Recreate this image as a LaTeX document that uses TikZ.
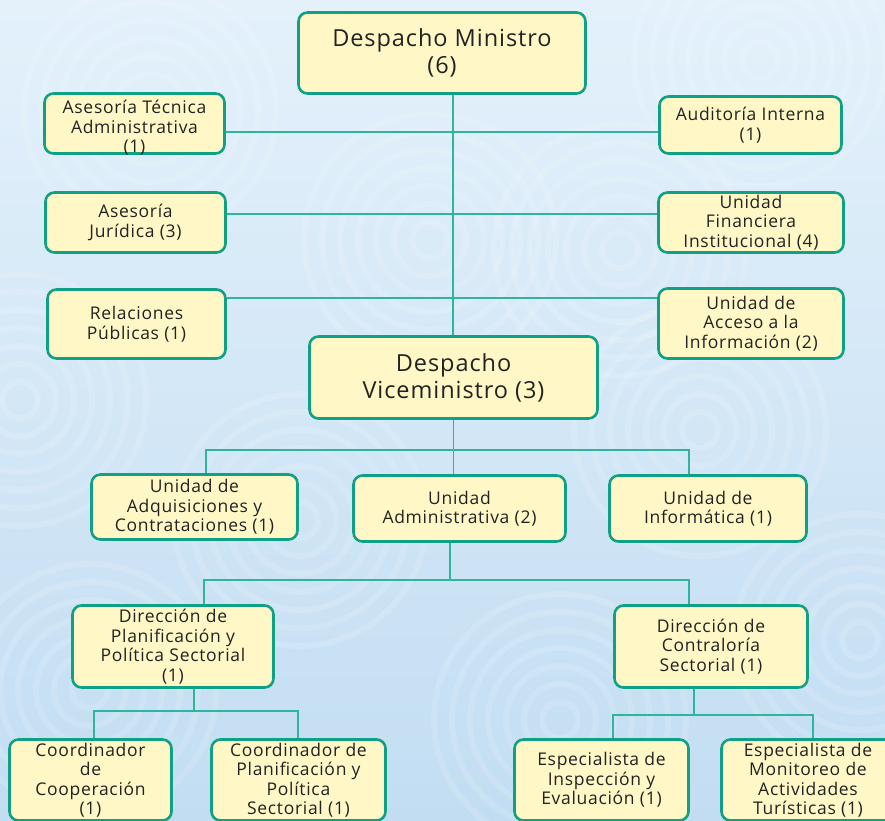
\documentclass[tikz,border=0pt]{standalone}
\usepackage{fontspec}
\setmainfont{Open Sans}[LetterSpace=4]
\pgfdeclarelayer{bg}
\pgfsetlayers{bg,main}
\definecolor{bgtop}{HTML}{E4F1FB}
\definecolor{bgbot}{HTML}{C2DDF2}
\definecolor{boxfill}{HTML}{FFF8C6}
\definecolor{boxline}{HTML}{10A084}
\definecolor{connc}{HTML}{30B49B}
\definecolor{txt}{HTML}{222222}
\tikzset{
  orgbox/.style={draw=boxline, line width=2.6pt, fill=boxfill, rounded corners=9pt,
    text=txt, align=center, font=\fontsize{17.5}{19.5}\selectfont, inner sep=0pt},
  boxtext/.style={text=txt, align=center, font=\fontsize{17.5}{19.5}\selectfont, inner sep=0pt},
  bigtext/.style={font=\fontsize{23.5}{27}\selectfont},
  connline/.style={draw=connc, line width=1.3pt},
  swirl/.style={draw=white, opacity=0.14, line width=6pt}
}
\begin{document}
\begin{tikzpicture}[x=1pt,y=1pt]
\useasboundingbox (0,0) rectangle (885,-820);
\clip (0,0) rectangle (885,-820);
% nodes
\node[orgbox,bigtext,minimum width=287,minimum height=81] (min) at (442,-53) {Despacho Ministro\\(6)};
\node[orgbox,minimum width=180,minimum height=60] (ata) at (134.5,-123.5) {};
\node[boxtext] (atat) at (134.5,-128) {Asesoría Técnica\\Administrativa\\(1)};
\node[orgbox,minimum width=182,minimum height=57] (ai) at (750.5,-125) {Auditoría Interna\\(1)};
\node[orgbox,minimum width=180,minimum height=60] (aj) at (135.5,-222.5) {Asesoría\\Jurídica (3)};
\node[orgbox,minimum width=185,minimum height=60] (ufi) at (751,-222.5) {Unidad\\Financiera\\Institucional (4)};
\node[orgbox,minimum width=178,minimum height=69] (rp) at (136.5,-324) {Relaciones\\Públicas (1)};
\node[orgbox,minimum width=185,minimum height=70] (uai) at (751,-323.5) {Unidad de\\Acceso a la\\Información (2)};
\node[orgbox,bigtext,minimum width=288,minimum height=82] (vice) at (453.5,-377.5) {Despacho\\Viceministro (3)};
\node[orgbox,minimum width=206,minimum height=65] (adq) at (194.5,-507) {Unidad de\\Adquisiciones y\\Contrataciones (1)};
\node[orgbox,minimum width=212,minimum height=66] (adm) at (459.5,-508.5) {Unidad\\Administrativa (2)};
\node[orgbox,minimum width=197,minimum height=66] (inf) at (708,-508.5) {Unidad de\\Informática (1)};
\node[orgbox,minimum width=201,minimum height=82] (plan) at (173,-646.5) {Dirección de\\Planificación y\\Política Sectorial\\(1)};
\node[orgbox,minimum width=193,minimum height=82] (contr) at (711,-646.5) {Dirección de\\Contraloría\\Sectorial (1)};
\node[orgbox,minimum width=162,minimum height=81] (coop) at (90.5,-780) {Coordinador\\de\\Cooperación\\(1)};
\node[orgbox,minimum width=174,minimum height=81] (cplan) at (298.5,-780) {Coordinador de\\Planificación y\\Política\\Sectorial (1)};
\node[orgbox,minimum width=174,minimum height=81] (insp) at (601.5,-780) {Especialista de\\Inspección y\\Evaluación (1)};
\node[orgbox,minimum width=173,minimum height=81] (mon) at (808,-780) {Especialista de\\Monitoreo de\\Actividades\\Turísticas (1)};
% coordinates for connector corners
\coordinate (h1) at (0,-132);
\coordinate (h2) at (0,-214);
\coordinate (h3) at (0,-298);
\coordinate (m0) at (453,0);
\coordinate (v1) at (206,-450);
\coordinate (v2) at (689,-450);
\coordinate (w0) at (450,-580);
\coordinate (w1) at (204,-580);
\coordinate (w2) at (689,-580);
\coordinate (p0) at (194,-711);
\coordinate (p1) at (94,-711);
\coordinate (p2) at (298,-711);
\coordinate (c0) at (694,-715);
\coordinate (c1) at (613,-715);
\coordinate (c2) at (813,-715);
\begin{pgfonlayer}{bg}
\shade[top color=bgtop, bottom color=bgbot] (0,0) rectangle (885,-820);
\foreach \cx/\cy in {150/-110, 430/-240, 760/-60, 300/-520, 700/-430, 90/-690, 560/-720, 860/-640, 20/-400, 620/-250}{
  \foreach \r in {18,36,...,126}{
    \draw[swirl] (\cx,\cy) circle (\r);
  }
}
% connectors
\draw[connline] (m0 |- min.south) -- (m0 |- vice.north);
\draw[connline] (ata.east |- h1) -- (ai.west |- h1);
\draw[connline] (aj.east |- h2) -- (ufi.west |- h2);
\draw[connline] (rp.east |- h3) -- (uai.west |- h3);
\draw[connline] (vice.south) -- (vice.south |- v1);
\draw[connline] (v1 |- adq.north) -- (v1) -- (v2) -- (v2 |- inf.north);
\draw[connline] (vice.south |- v1) -- (vice.south |- adm.north);
\draw[connline] (w0 |- adm.south) -- (w0);
\draw[connline] (w1 |- plan.north) -- (w1) -- (w2) -- (w2 |- contr.north);
\draw[connline] (p0 |- plan.south) -- (p0);
\draw[connline] (p1 |- coop.north) -- (p1) -- (p2) -- (p2 |- cplan.north);
\draw[connline] (c0 |- contr.south) -- (c0);
\draw[connline] (c1 |- insp.north) -- (c1) -- (c2) -- (c2 |- mon.north);
\end{pgfonlayer}
\end{tikzpicture}
\end{document}
